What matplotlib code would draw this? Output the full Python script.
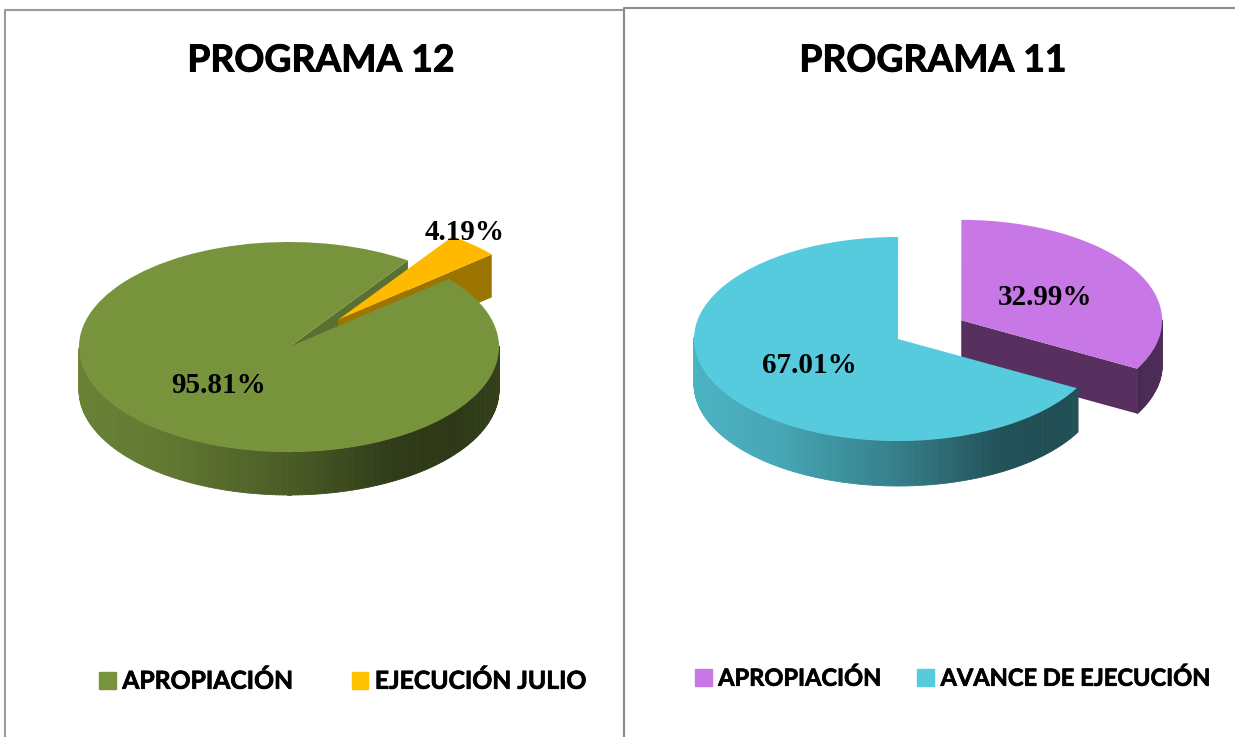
# Two extruded pie charts side by side (PROGRAMA 12 / PROGRAMA 11)
import numpy as np
import matplotlib
matplotlib.use('Agg')
import matplotlib.pyplot as plt
import matplotlib.patheffects as pe
from matplotlib.collections import PolyCollection
from matplotlib.patches import Patch

W, H = 1235, 737

# data
titles = ['PROGRAMA 12', 'PROGRAMA 11']
labels_12 = ['APROPIACIÓN', 'EJECUCIÓN JULIO']
values_12 = [95.81, 4.19]
labels_11 = ['APROPIACIÓN', 'AVANCE DE EJECUCIÓN']
values_11 = [32.99, 67.01]

GREEN = '#77933C'
YELLOW = '#FFBA00'
PURPLE = '#C878E6'
CYAN = '#55CBDD'


def pie_axes(cx, cy, rx, ry):
    # full figure axes where the unit circle lands on the wanted ellipse
    ax = fig.add_axes([0, 0, 1, 1])
    return ax, (-cx / rx, (W - cx) / rx), (-(H - cy) / ry, cy / ry)


def finish(ax, xlim, ylim):
    ax.set_aspect('auto')
    ax.set_xlim(*xlim)
    ax.set_ylim(*ylim)


def rim(ax, wedge, depth, color, z):
    # shaded outer side of the slice, only the front half shows
    t1, t2 = wedge.theta1, wedge.theta2
    ang = np.radians(np.arange(t1, t2 + 1.0, 1.0))
    ang = ang[np.sin(ang) < 0.02]
    cx, cy = wedge.center
    r = wedge.r
    base = np.array(matplotlib.colors.to_rgb(color))
    quads, cols = [], []
    for a0, a1 in zip(ang[:-1], ang[1:]):
        if a1 - a0 > 0.1:
            continue
        x0, y0 = cx + r * np.cos(a0), cy + r * np.sin(a0)
        x1, y1 = cx + r * np.cos(a1), cy + r * np.sin(a1)
        quads.append([(x0, y0), (x1, y1), (x1, y1 - depth), (x0, y0 - depth)])
        m = np.interp(np.cos(a0), [-1, -0.6, 0, 0.5, 0.8, 1], [0.88, 0.82, 0.62, 0.40, 0.38, 0.44])
        cols.append(base * m)
    pc = PolyCollection(quads, facecolors=cols, edgecolors=cols, linewidths=0.6, zorder=z)
    ax.add_collection(pc)


def wall(ax, wedge, angle, depth, color, z):
    # straight cut face of the slice at the given angle
    cx, cy = wedge.center
    r = wedge.r
    ox, oy = cx + r * np.cos(np.radians(angle)), cy + r * np.sin(np.radians(angle))
    ax.fill([cx, ox, ox, cx], [cy, oy, oy - depth, cy - depth], color=color, lw=0, zorder=z)


fig = plt.figure(figsize=(W / 100, H / 100), dpi=100)
fig.patch.set_facecolor('white')

# PROGRAMA 12
ax12, xl, yl = pie_axes(289, 347, 210, 105)
d12 = 43 / 105
wedges, _ = ax12.pie(values_12, colors=[GREEN, YELLOW], startangle=55.5, explode=[0, 0.35],
                     wedgeprops={'linewidth': 0})
wedges[1].set_radius(0.96)
wall(ax12, wedges[0], wedges[0].theta1, d12, '#5A7030', 1)
wall(ax12, wedges[1], wedges[1].theta1, d12, '#9C7500', 2)
wedges[1].set_zorder(3)
rim(ax12, wedges[0], d12, GREEN, 4)
wedges[0].set_zorder(5)
finish(ax12, xl, yl)

# PROGRAMA 11
ax11, xl, yl = pie_axes(898, 339, 204, 102)
d11 = 45 / 102
wedges, _ = ax11.pie(values_11, colors=[PURPLE, CYAN], startangle=-28.8, explode=[0.36, 0],
                     wedgeprops={'linewidth': 0})
wedges[0].set_radius(0.985)
rim(ax11, wedges[0], d11, '#B066CC', 1)
wall(ax11, wedges[0], wedges[0].theta1, d11, '#57305F', 2)
wedges[0].set_zorder(3)
rim(ax11, wedges[1], d11, CYAN, 4)
wedges[1].set_zorder(5)
finish(ax11, xl, yl)

# overlay in pixel coordinates for frames and text
ov = fig.add_axes([0, 0, 1, 1])
ov.set_xlim(0, W)
ov.set_ylim(H, 0)
ov.axis('off')

frame = '#9A9A9A'
ov.plot([5, 5, 624, 624], [H, 10, 10, H], color=frame, lw=1.5)
ov.plot([624, 624, W], [H, 8, 8], color='#8C8C8C', lw=1.5)

# Lato bold is a bit light here, a thin stroke brings it closer
heavy = [pe.withStroke(linewidth=0.7, foreground='black')]

title_font = {'family': 'Lato', 'weight': 'bold', 'size': 26.8, 'ha': 'center', 'va': 'center',
              'path_effects': heavy}
ov.text(321, 61, titles[0], **title_font)
ov.text(933, 61, titles[1], **title_font)

pct_font = {'family': 'Liberation Serif', 'weight': 'bold', 'size': 21, 'ha': 'center', 'va': 'center'}
ov.text(219, 385, f'{values_12[0]:.2f}%', **pct_font)
ov.text(465, 232, f'{values_12[1]:.2f}%', **pct_font)
ov.text(1045, 297, f'{values_11[0]:.2f}%', **pct_font)
ov.text(809, 365, f'{values_11[1]:.2f}%', **pct_font)

leg_kw = dict(ncol=2, frameon=False, loc='center left', borderpad=0, borderaxespad=0,
              bbox_transform=ov.transData)
leg = ov.legend([Patch(color=GREEN), Patch(color='#FFC000')], labels_12,
                bbox_to_anchor=(99, 681), columnspacing=2.35,
                handlelength=0.68, handleheight=0.68, handletextpad=0.26,
                prop={'family': 'Lato', 'weight': 'bold', 'size': 17.8}, **leg_kw)
for t in leg.get_texts():
    t.set_path_effects([pe.withStroke(linewidth=0.5, foreground='black')])
ov.add_artist(leg)
leg = ov.legend([Patch(color=PURPLE), Patch(color=CYAN)], labels_11,
                bbox_to_anchor=(695, 678), columnspacing=1.55,
                handlelength=0.71, handleheight=0.71, handletextpad=0.27,
                prop={'family': 'Lato', 'weight': 'bold', 'size': 17}, **leg_kw)
for t in leg.get_texts():
    t.set_path_effects([pe.withStroke(linewidth=0.5, foreground='black')])

fig.savefig('out.png', dpi=100)
